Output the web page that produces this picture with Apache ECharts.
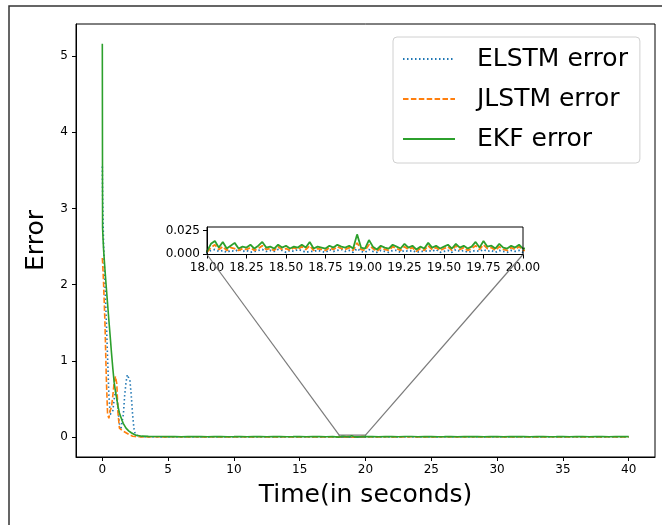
<!DOCTYPE html>
<html>
<head>
<meta charset="utf-8">
<script src="https://cdn.jsdelivr.net/npm/echarts@6/dist/echarts.min.js"></script>
<style>
  html, body { margin: 0; padding: 0; background: #fff; }
  #chart { width: 662px; height: 525px; }
</style>
</head>
<body>
<div id="chart"></div>
<script>
// time grid of the transient part (seconds)
var tEarly = [0, 0.02, 0.05, 0.1, 0.2, 0.3, 0.4, 0.5, 0.6, 0.7, 0.8, 0.9, 1.0, 1.1, 1.2, 1.3, 1.4, 1.5,
  1.6, 1.7, 1.8, 1.9, 2.0, 2.1, 2.2, 2.3, 2.4, 2.5, 2.6, 2.8, 3.0];

// ELSTM error
var elstmEarly = [3.55, 3.2, 2.9, 2.5, 2.0, 1.55, 1.05, 0.55, 0.30, 0.28, 0.35, 0.50, 0.60, 0.55, 0.35, 0.18,
  0.10, 0.12, 0.30, 0.55, 0.72, 0.82, 0.84, 0.74, 0.55, 0.30, 0.12, 0.04, 0.02, 0.01, 0.008];
var elstmMid = [0.004, 0.005, 0.003, 0.004, 0.005, 0.003, 0.004, 0.004, 0.005, 0.003, 0.004, 0.005, 0.003,
  0.004, 0.004, 0.005, 0.003, 0.004, 0.005, 0.004, 0.003, 0.004, 0.005, 0.003, 0.004, 0.004, 0.005, 0.003, 0.004];
var elstmZoom = [0.002, 0.004, 0.005, 0.003, 0.004, 0.002, 0.004, 0.003, 0.005, 0.003, 0.004, 0.002, 0.003,
  0.004, 0.005, 0.003, 0.004, 0.003, 0.005, 0.004, 0.002, 0.004, 0.003, 0.005, 0.004, 0.002, 0.003, 0.003,
  0.004, 0.003, 0.002, 0.005, 0.003, 0.004, 0.005, 0.003, 0.004, 0.002, 0.006, 0.003, 0.002, 0.005, 0.003,
  0.002, 0.004, 0.003, 0.002, 0.004, 0.004, 0.002, 0.004, 0.003, 0.004, 0.002, 0.003, 0.003, 0.004, 0.003,
  0.005, 0.002, 0.003, 0.004, 0.002, 0.005, 0.003, 0.004, 0.002, 0.003, 0.004, 0.003, 0.005, 0.003, 0.004,
  0.002, 0.004, 0.003, 0.002, 0.004, 0.003, 0.004, 0.002];
var elstmLate = [0.004, 0.003, 0.005, 0.004, 0.003, 0.004, 0.005, 0.003, 0.004, 0.004, 0.003, 0.005, 0.004,
  0.003, 0.004, 0.005, 0.004, 0.003, 0.004, 0.005, 0.003, 0.004, 0.004, 0.005, 0.003, 0.004, 0.003, 0.005,
  0.004, 0.003, 0.004, 0.005, 0.003, 0.004, 0.004, 0.003, 0.005, 0.004, 0.003, 0.004];

// JLSTM error
var jlstmEarly = [2.35, 2.3, 2.2, 2.0, 1.5, 0.8, 0.30, 0.25, 0.35, 0.40, 0.55, 0.72, 0.80, 0.70, 0.30, 0.12,
  0.10, 0.09, 0.08, 0.07, 0.06, 0.05, 0.04, 0.03, 0.02, 0.015, 0.012, 0.010, 0.008, 0.007, 0.006];
var jlstmMid = [0.006, 0.007, 0.005, 0.006, 0.008, 0.005, 0.006, 0.007, 0.005, 0.006, 0.007, 0.005, 0.006,
  0.006, 0.007, 0.005, 0.006, 0.007, 0.005, 0.006, 0.006, 0.007, 0.005, 0.006, 0.007, 0.005, 0.006, 0.006, 0.007];
var jlstmZoom = [0.002, 0.007, 0.010, 0.005, 0.008, 0.004, 0.007, 0.006, 0.004, 0.006,
  0.005, 0.007, 0.004, 0.006, 0.009, 0.005, 0.006, 0.004, 0.008, 0.005,
  0.006, 0.004, 0.007, 0.005, 0.008, 0.005, 0.009, 0.004, 0.006, 0.005,
  0.004, 0.007, 0.005, 0.008, 0.006, 0.005, 0.007, 0.004, 0.012, 0.005,
  0.004, 0.010, 0.006, 0.003, 0.007, 0.005, 0.004, 0.008, 0.006, 0.004,
  0.008, 0.005, 0.007, 0.003, 0.006, 0.004, 0.009, 0.005, 0.007, 0.004,
  0.006, 0.008, 0.004, 0.009, 0.005, 0.007, 0.004, 0.006, 0.009, 0.005,
  0.010, 0.006, 0.007, 0.004, 0.008, 0.005, 0.004, 0.007, 0.005, 0.008,
  0.004];
var jlstmLate = [0.006, 0.005, 0.007, 0.006, 0.005, 0.006, 0.007, 0.005, 0.006, 0.006, 0.005, 0.007, 0.006,
  0.005, 0.006, 0.007, 0.006, 0.005, 0.006, 0.007, 0.005, 0.006, 0.006, 0.007, 0.005, 0.006, 0.005, 0.007,
  0.006, 0.005, 0.006, 0.007, 0.005, 0.006, 0.006, 0.005, 0.007, 0.006, 0.005, 0.006];

// EKF error
var ekfEarly = [5.16, 2.75, 2.62, 2.45, 2.2, 1.97, 1.75, 1.53, 1.32, 1.10, 0.90, 0.72, 0.60, 0.50, 0.40, 0.32,
  0.27, 0.22, 0.18, 0.15, 0.12, 0.10, 0.085, 0.07, 0.06, 0.05, 0.04, 0.03, 0.025, 0.02, 0.015];
var ekfMid = [0.012, 0.010, 0.011, 0.009, 0.010, 0.008, 0.011, 0.009, 0.010, 0.008, 0.009, 0.010, 0.008,
  0.009, 0.011, 0.008, 0.009, 0.010, 0.008, 0.009, 0.010, 0.008, 0.009, 0.011, 0.008, 0.010, 0.009, 0.008, 0.009];
var ekfZoom = [0.003, 0.011, 0.014, 0.007, 0.013, 0.006, 0.009, 0.012, 0.006, 0.008,
  0.007, 0.010, 0.006, 0.009, 0.013, 0.007, 0.008, 0.006, 0.010, 0.007,
  0.009, 0.006, 0.008, 0.007, 0.010, 0.007, 0.013, 0.006, 0.008, 0.007,
  0.006, 0.009, 0.007, 0.010, 0.008, 0.007, 0.009, 0.006, 0.021, 0.007,
  0.006, 0.015, 0.008, 0.005, 0.009, 0.007, 0.006, 0.010, 0.008, 0.006,
  0.011, 0.007, 0.009, 0.005, 0.008, 0.006, 0.012, 0.007, 0.009, 0.006,
  0.008, 0.010, 0.006, 0.011, 0.007, 0.009, 0.006, 0.008, 0.013, 0.007,
  0.014, 0.008, 0.009, 0.006, 0.011, 0.007, 0.006, 0.009, 0.007, 0.010,
  0.006];
var ekfLate = [0.009, 0.008, 0.010, 0.009, 0.008, 0.010, 0.011, 0.008, 0.009, 0.010, 0.008, 0.009, 0.011,
  0.008, 0.009, 0.010, 0.009, 0.008, 0.010, 0.009, 0.008, 0.011, 0.009, 0.010, 0.008, 0.009, 0.010, 0.008,
  0.009, 0.011, 0.008, 0.009, 0.010, 0.008, 0.009, 0.010, 0.008, 0.009, 0.010, 0.009];

var xTicks = [0, 5, 10, 15, 20, 25, 30, 35, 40];
var yTicks = [0, 1, 2, 3, 4, 5];
var zoomXTicks = [18, 18.25, 18.5, 18.75, 19, 19.25, 19.5, 19.75, 20];
var zoomYTicks = [0, 0.025];
var zoomRange = [18, 20];

// join the pieces on their sampling grids
function build(early, mid, zoom, late) {
  var out = [];
  early.forEach(function (v, i) { out.push([tEarly[i], v]); });
  mid.forEach(function (v, i) { out.push([3.5 + i * 0.5, v]); });
  zoom.forEach(function (v, i) { out.push([18 + i * 0.025, v]); });
  late.forEach(function (v, i) { out.push([20.5 + i * 0.5, v]); });
  return out;
}
var elstmData = build(elstmEarly, elstmMid, elstmZoom, elstmLate);
var jlstmData = build(jlstmEarly, jlstmMid, jlstmZoom, jlstmLate);
var ekfData = build(ekfEarly, ekfMid, ekfZoom, ekfLate);

var FONT = 'DejaVu Sans';
var colors = ['#1f77b4', '#ff7f0e', '#2ca02c'];
var lineTypes = [[1.5, 2.5], [5.5, 2.4], 'solid'];
var names = ['ELSTM error', 'JLSTM error', 'EKF error'];
var datas = [elstmData, jlstmData, ekfData];

var chart = echarts.init(document.getElementById('chart'), null, { renderer: 'canvas' });

var series = [];
[0, 1].forEach(function (g) {
  datas.forEach(function (d, k) {
    series.push({
      name: names[k],
      type: 'line',
      xAxisIndex: g,
      yAxisIndex: g,
      data: d,
      symbol: 'none',
      showSymbol: false,
      clip: true,
      lineStyle: { color: colors[k], width: g === 0 ? 1.6 : 1.8, type: lineTypes[k] },
      itemStyle: { color: colors[k] },
      z: 2 + k
    });
  });
});

var tickLabel = { fontFamily: FONT, fontSize: 12, color: '#000' };

chart.setOption({
  animation: false,
  backgroundColor: '#fff',
  textStyle: { fontFamily: FONT },
  legend: {
    data: names,
    left: 393,
    top: 37,
    orient: 'vertical',
    itemWidth: 52,
    itemHeight: 14,
    itemGap: 12,
    padding: [8, 12, 10, 9],
    borderColor: '#d0d0d0',
    borderWidth: 1,
    borderRadius: 4,
    backgroundColor: 'rgba(255,255,255,0.8)',
    itemStyle: { opacity: 0 },
    textStyle: { fontFamily: FONT, fontSize: 25, color: '#000', lineHeight: 28, padding: [0, 0, 0, 17] }
  },
  grid: [
    { left: 76, top: 24, width: 579, height: 433, show: true, borderColor: '#000', borderWidth: 1, containLabel: false },
    { left: 207, top: 227, width: 316, height: 27.5, show: true, borderColor: '#000', borderWidth: 1, containLabel: false, z: 10 }
  ],
  xAxis: [
    {
      type: 'value', gridIndex: 0, min: -2, max: 42,
      name: 'Time(in seconds)', nameLocation: 'middle', nameGap: 26,
      nameTextStyle: { fontFamily: FONT, fontSize: 25, color: '#000' },
      axisLine: { show: true, onZero: false, lineStyle: { color: '#000', width: 1 } },
      axisTick: { show: true, inside: false, length: 4, customValues: xTicks, lineStyle: { color: '#000' } },
      axisLabel: Object.assign({ margin: 7, customValues: xTicks }, tickLabel),
      splitLine: { show: false }
    },
    {
      type: 'value', gridIndex: 1, min: zoomRange[0], max: zoomRange[1],
      axisLine: { show: true, onZero: false, lineStyle: { color: '#000', width: 1 } },
      axisTick: { show: true, length: 4, customValues: zoomXTicks, lineStyle: { color: '#000' } },
      axisLabel: Object.assign({ margin: 7, customValues: zoomXTicks, formatter: function (v) { return v.toFixed(2); } }, tickLabel),
      splitLine: { show: false }
    }
  ],
  yAxis: [
    {
      type: 'value', gridIndex: 0, min: -0.258, max: 5.418,
      name: 'Error', nameLocation: 'middle', nameGap: 17,
      nameTextStyle: { fontFamily: FONT, fontSize: 25, color: '#000' },
      axisLine: { show: true, onZero: false, lineStyle: { color: '#000', width: 1 } },
      axisTick: { show: true, length: 4, customValues: yTicks, lineStyle: { color: '#000' } },
      axisLabel: Object.assign({ margin: 8, customValues: yTicks }, tickLabel),
      splitLine: { show: false }
    },
    {
      type: 'value', gridIndex: 1, min: -0.0003, max: 0.0288,
      axisLine: { show: true, onZero: false, lineStyle: { color: '#000', width: 1 } },
      axisTick: { show: true, length: 4, customValues: zoomYTicks, lineStyle: { color: '#000' } },
      axisLabel: Object.assign({ margin: 7, customValues: zoomYTicks, formatter: function (v) { return v.toFixed(3); } }, tickLabel),
      splitLine: { show: false }
    }
  ],
  series: series
});

// figure frame, zoom marker and connector lines
function drawExtras() {
  var yz = chart.getModel().getComponent('yAxis', 1).axis.scale.getExtent();
  var boxTL = chart.convertToPixel({ gridIndex: 0 }, [zoomRange[0], yz[1]]);
  var boxBR = chart.convertToPixel({ gridIndex: 0 }, [zoomRange[1], yz[0]]);
  var insL = chart.convertToPixel({ gridIndex: 1 }, [zoomRange[0], yz[0]]);
  var insR = chart.convertToPixel({ gridIndex: 1 }, [zoomRange[1], yz[0]]);
  var gray = '#7a7a7a';
  chart.setOption({
    graphic: [
      { type: 'rect', shape: { x: 9, y: 6, width: 700, height: 600 }, style: { fill: null, stroke: '#333', lineWidth: 1.5 }, silent: true, z: 0 },
      { type: 'rect', shape: { x: boxTL[0], y: boxTL[1], width: boxBR[0] - boxTL[0], height: boxBR[1] - boxTL[1] }, style: { fill: null, stroke: gray, lineWidth: 1.2 }, silent: true, z: 1 },
      { type: 'line', shape: { x1: insL[0], y1: insL[1], x2: boxTL[0], y2: boxTL[1] }, style: { stroke: gray, lineWidth: 1.2 }, silent: true, z: 1 },
      { type: 'line', shape: { x1: insR[0], y1: insR[1], x2: boxBR[0], y2: boxTL[1] }, style: { stroke: gray, lineWidth: 1.2 }, silent: true, z: 1 }
    ]
  });
}
drawExtras();
</script>
</body>
</html>
